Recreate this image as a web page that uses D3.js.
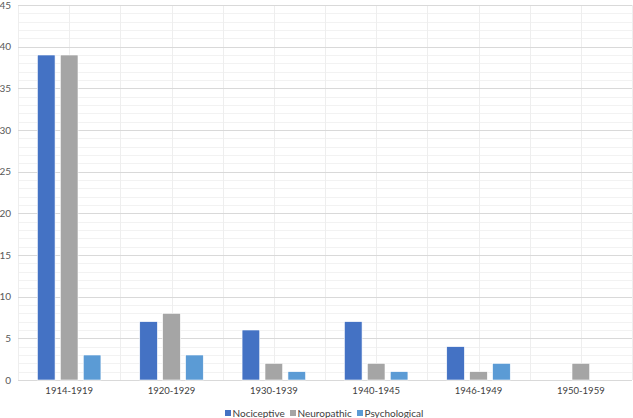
<!DOCTYPE html>
<html>
<head>
<meta charset="utf-8">
<script src="https://cdn.jsdelivr.net/npm/d3@7"></script>
<style>
  body { margin: 0; background: #fff; }
  svg { display: block; font-family: Lato, "Open Sans", sans-serif; }
</style>
</head>
<body>
<div id="container"></div>
<script>
// Data
let categories = ["1914-1919", "1920-1929", "1930-1939", "1940-1945", "1946-1949", "1950-1959"];
let seriesNames = ["Nociceptive", "Neuropathic", "Psychological"];
let nociceptive = [39, 7, 6, 7, 4, 0];
let neuropathic = [39, 8, 2, 2, 1, 2];
let psychological = [3, 3, 1, 1, 2, 0];
let yTicks = [0, 5, 10, 15, 20, 25, 30, 35, 40, 45];
let colors = ["#4472C4", "#A5A5A5", "#5B9BD5"];

let seriesValues = [nociceptive, neuropathic, psychological];

let width = 633, height = 418;
let plotLeft = 18, plotRight = 632, plotTop = 5, plotBottom = 380;

let svg = d3.select("#container")
    .append("svg")
    .attr("width", width)
    .attr("height", height);

let x0 = d3.scaleBand()
    .domain(categories)
    .range([plotLeft, plotRight])
    .padding(0);

let outer = 19.4;
let x1 = d3.scaleBand()
    .domain(seriesNames)
    .range([outer, x0.bandwidth() - outer])
    .paddingInner(0.23)
    .paddingOuter(0);

let y = d3.scaleLinear()
    .domain([0, 45])
    .range([plotBottom, plotTop]);

let color = d3.scaleOrdinal().domain(seriesNames).range(colors);

//Minor horizontal gridlines
svg.append("g")
    .selectAll("line")
    .data(d3.range(0, 46).filter(v => v % 5 != 0))
    .enter()
    .append("line")
    .attr("x1", plotLeft)
    .attr("x2", plotRight)
    .attr("y1", d => Math.round(y(d)) + 0.5)
    .attr("y2", d => Math.round(y(d)) + 0.5)
    .attr("stroke", "#f2f2f2")
    .attr("stroke-width", 1);

//Vertical gridlines at band edges and centers
let vLines = [];
categories.forEach(c => {
    vLines.push(x0(c));
    vLines.push(x0(c) + x0.bandwidth() / 2);
});
vLines.push(plotRight);
svg.append("g")
    .selectAll("line")
    .data(vLines)
    .enter()
    .append("line")
    .attr("x1", d => Math.round(d) + 0.5)
    .attr("x2", d => Math.round(d) + 0.5)
    .attr("y1", y(45))
    .attr("y2", y(0))
    .attr("stroke", "#eeeeee")
    .attr("stroke-width", 1);

//Major horizontal gridlines
svg.append("g")
    .selectAll("line")
    .data(yTicks)
    .enter()
    .append("line")
    .attr("x1", plotLeft)
    .attr("x2", plotRight)
    .attr("y1", d => Math.round(y(d)) + 0.5)
    .attr("y2", d => Math.round(y(d)) + 0.5)
    .attr("stroke", "#d9d9d9")
    .attr("stroke-width", 1);

//Y axis labels
let yAxis = d3.axisLeft(y).tickValues(yTicks).tickSize(0).tickPadding(0);
let yG = svg.append("g")
    .attr("transform", "translate(11,0)")
    .call(yAxis);
yG.select(".domain").remove();
yG.selectAll("text")
    .attr("fill", "#595959")
    .style("font-size", "10px")
    .style("font-family", "Lato, sans-serif");

//X axis labels
let xAxis = d3.axisBottom(x0).tickSize(0).tickPadding(0);
let xG = svg.append("g")
    .attr("transform", "translate(0,387)")
    .call(xAxis);
xG.select(".domain").remove();
xG.selectAll("text")
    .attr("fill", "#404040")
    .style("font-size", "9.5px")
    .style("font-family", "Lato, sans-serif");

//Bars
let groups = svg.append("g")
    .selectAll("g")
    .data(categories)
    .enter()
    .append("g")
    .attr("transform", d => "translate(" + x0(d) + ",0)");

groups.selectAll("rect")
    .data((d, i) => seriesNames
        .map((s, j) => ({ key: s, value: seriesValues[j][i] }))
        .filter(e => e.value > 0))
    .enter()
    .append("rect")
    .attr("x", d => x1(d.key))
    .attr("y", d => y(d.value))
    .attr("width", x1.bandwidth())
    .attr("height", d => y(0) - y(d.value))
    .attr("fill", d => color(d.key))
    .attr("stroke", "#ffffff")
    .attr("stroke-width", 0.6);

//Legend
let legendX = [225, 290, 357];
let legend = svg.append("g")
    .selectAll("g")
    .data(seriesNames)
    .enter()
    .append("g")
    .attr("transform", (d, i) => "translate(" + legendX[i] + ",413)");

legend.append("rect")
    .attr("x", 0)
    .attr("y", -3)
    .attr("width", 6)
    .attr("height", 6)
    .attr("fill", d => color(d));

legend.append("text")
    .attr("x", 7.5)
    .attr("y", 0)
    .attr("dy", "0.35em")
    .attr("fill", "#404040")
    .style("font-size", "10px")
    .text(d => d);
</script>
</body>
</html>
